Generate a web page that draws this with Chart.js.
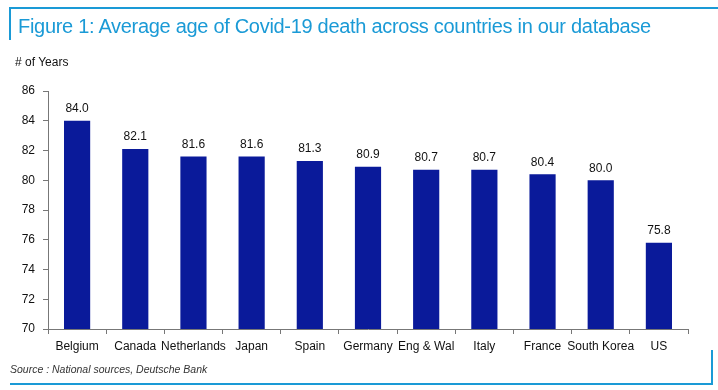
<!DOCTYPE html>
<html>
<head>
<meta charset="utf-8">
<script src="https://cdn.jsdelivr.net/npm/chart.js@4.4.0/dist/chart.umd.min.js"></script>
<style>
  html, body { margin: 0; padding: 0; background: #fff; }
  #wrap { position: relative; width: 718px; height: 390px; overflow: hidden; font-family: "Liberation Sans", Arial, sans-serif; }
  #chart { position: absolute; left: 0; top: 0; }
  .frame { position: absolute; background: #1a9ad6; }
  #title { position: absolute; left: 18px; top: 15px; font-size: 20px; color: #1a9ad6; white-space: nowrap; letter-spacing: -0.3px; }
  #ylab { position: absolute; left: 15px; top: 55px; font-size: 12px; color: #111; }
  #source { position: absolute; left: 10px; top: 363px; font-size: 10.5px; font-style: italic; color: #333; }
</style>
</head>
<body>
<div id="wrap">
  <canvas id="chart" width="718" height="390"></canvas>
  <div class="frame" style="left:9px;top:7px;width:709px;height:2px"></div>
  <div class="frame" style="left:9px;top:7px;width:2px;height:33px"></div>
  <div class="frame" style="left:10px;top:383px;width:703px;height:2px"></div>
  <div class="frame" style="left:711px;top:350px;width:2px;height:35px"></div>
  <div id="title">Figure 1: Average age of Covid-19 death across countries in our database</div>
  <div id="ylab"># of Years</div>
  <div id="source">Source : National sources, Deutsche Bank</div>
</div>
<script>
const countries = ['Belgium', 'Canada', 'Netherlands', 'Japan', 'Spain', 'Germany', 'Eng & Wal', 'Italy', 'France', 'South Korea', 'US'];
const avgAge = [84.0, 82.1, 81.6, 81.6, 81.3, 80.9, 80.7, 80.7, 80.4, 80.0, 75.8];
const yMin = 70;
const yMax = 86;
const yStep = 2;

// draws the value above each bar
const valueLabels = {
  id: 'valueLabels',
  afterDatasetsDraw(chart) {
    const ctx = chart.ctx;
    const meta = chart.getDatasetMeta(0);
    ctx.save();
    ctx.font = '12px "Liberation Sans", Arial, sans-serif';
    ctx.fillStyle = '#111';
    ctx.textAlign = 'center';
    ctx.textBaseline = 'bottom';
    meta.data.forEach((bar, i) => {
      ctx.fillText(avgAge[i].toFixed(1), bar.x, bar.y - 6);
    });
    ctx.restore();
  }
};

new Chart(document.getElementById('chart'), {
  type: 'bar',
  data: {
    labels: countries,
    datasets: [{
      data: avgAge,
      backgroundColor: '#0a1a9a',
      barPercentage: 0.45,
      categoryPercentage: 1.0
    }]
  },
  options: {
    responsive: false,
    animation: false,
    layout: { padding: { top: 91, left: 0, right: 30, bottom: 0 } },
    plugins: {
      legend: { display: false },
      tooltip: { enabled: false }
    },
    scales: {
      y: {
        min: yMin,
        max: yMax,
        afterFit: (s) => { s.width = 48; },
        border: { color: '#777', width: 1 },
        grid: { drawOnChartArea: false, drawTicks: true, tickLength: 5, color: '#777' },
        ticks: {
          stepSize: yStep,
          padding: 8,
          color: '#111',
          font: { family: '"Liberation Sans", Arial, sans-serif', size: 12 }
        }
      },
      x: {
        afterFit: (s) => { s.height = 61; },
        border: { color: '#777', width: 1 },
        grid: { offset: true, drawOnChartArea: false, drawTicks: true, tickLength: 5, color: '#777' },
        ticks: {
          padding: 5,
          maxRotation: 0,
          autoSkip: false,
          color: '#111',
          font: { family: '"Liberation Sans Narrow", "Liberation Sans", Arial, sans-serif', size: 12 }
        }
      }
    }
  },
  plugins: [valueLabels]
});
</script>
</body>
</html>
